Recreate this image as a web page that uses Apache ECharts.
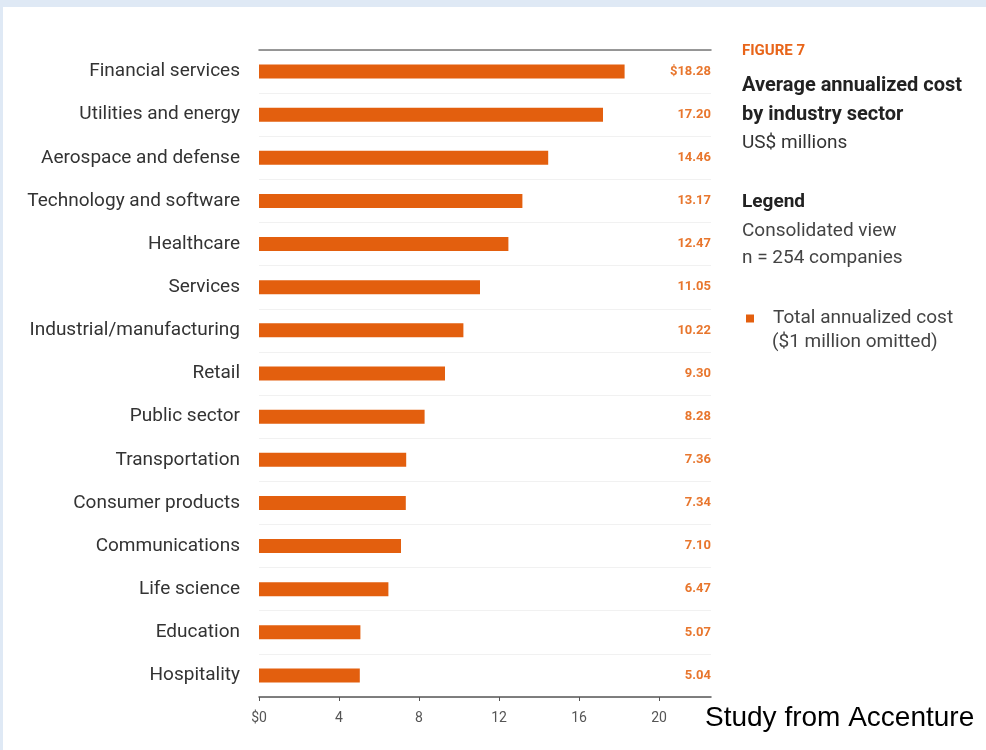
<!DOCTYPE html>
<html>
<head>
<meta charset="utf-8">
<script src="https://cdn.jsdelivr.net/npm/echarts@6/dist/echarts.min.js"></script>
<style>
  html, body { margin: 0; padding: 0; background: #ffffff; }
  #chart { width: 986px; height: 750px; }
</style>
</head>
<body>
<div id="chart"></div>
<script>
// industries, top to bottom
var sectors = ['Financial services', 'Utilities and energy', 'Aerospace and defense', 'Technology and software',
  'Healthcare', 'Services', 'Industrial/manufacturing', 'Retail', 'Public sector', 'Transportation',
  'Consumer products', 'Communications', 'Life science', 'Education', 'Hospitality'];
// average annualized cost, US$ millions
var costs = [18.28, 17.20, 14.46, 13.17, 12.47, 11.05, 10.22, 9.30, 8.28, 7.36, 7.34, 7.10, 6.47, 5.07, 5.04];
var xTicks = [0, 4, 8, 12, 16, 20];

var orange = '#e35f0e';
var costLabels = costs.map(function (v, i) {
  return (i === 0 ? '$' : '') + v.toFixed(2);
});

function txt(x, y, s, font, fill) {
  return {
    type: 'text',
    style: { x: x, y: y, text: s, font: font, fill: fill || '#333', verticalAlign: 'middle' }
  };
}

var chart = echarts.init(document.getElementById('chart'));
var option = {
  backgroundColor: '#ffffff',
  animation: false,
  textStyle: { fontFamily: 'Roboto' },
  grid: { left: 259, right: 275, top: 50, bottom: 53 },
  legend: {
    left: 741, top: 304,
    icon: 'rect', itemWidth: 8, itemHeight: 8,
    textStyle: { fontSize: 19, color: '#444', padding: [0, 0, 0, 14] },
    data: ['Total annualized cost']
  },
  xAxis: [{
    type: 'value', position: 'bottom',
    min: 0, max: 22.6, interval: 4,
    axisLine: { show: true, lineStyle: { color: '#555', width: 1.5 } },
    axisTick: { show: true, length: 4, lineStyle: { color: '#555' } },
    splitLine: { show: false },
    axisLabel: {
      color: '#555', fontSize: 14, margin: 14, showMaxLabel: false,
      formatter: function (v) {
        if (xTicks.indexOf(v) < 0) return '';
        return v === 0 ? '$0' : String(v);
      }
    }
  }, {
    type: 'value', position: 'top',
    min: 0, max: 22.6,
    axisLine: { show: true, lineStyle: { color: '#777', width: 1.5 } },
    axisTick: { show: false }, axisLabel: { show: false }, splitLine: { show: false }
  }],
  yAxis: [{
    type: 'category', inverse: true, data: sectors,
    axisLine: { show: false }, axisTick: { show: false },
    splitLine: { show: true, lineStyle: { color: '#f1f1f1' } },
    axisLabel: { color: '#333', fontSize: 19, margin: 19 }
  }, {
    type: 'category', inverse: true, data: costLabels, position: 'right',
    axisLine: { show: false }, axisTick: { show: false },
    axisLabel: { color: '#e8762d', fontSize: 13, fontWeight: 'bold', align: 'right', margin: 0 }
  }],
  series: [{
    name: 'Total annualized cost',
    type: 'bar',
    data: costs,
    barWidth: 14,
    itemStyle: { color: orange }
  }],
  graphic: [
    { type: 'rect', shape: { x: 0, y: 0, width: 986, height: 7 }, style: { fill: '#dfe9f5' }, z: -1 },
    { type: 'rect', shape: { x: 0, y: 0, width: 3, height: 750 }, style: { fill: '#dfe9f5' }, z: -1 },
    txt(742, 51, 'FIGURE 7', 'bold 15px Roboto', '#e8651a'),
    txt(742, 86, 'Average annualized cost', 'bold 20px Roboto', '#222'),
    txt(742, 115, 'by industry sector', 'bold 20px Roboto', '#222'),
    txt(742, 143, 'US$ millions', '19px Roboto', '#333'),
    txt(742, 202, 'Legend', 'bold 19px Roboto', '#222'),
    txt(742, 231, 'Consolidated view', '19px Roboto', '#444'),
    txt(742, 258, 'n = 254 companies', '19px Roboto', '#444'),
    txt(772, 342, '($1 million omitted)', '19px Roboto', '#444'),
    txt(705, 718, 'Study from Accenture', '28px "Liberation Sans"', '#000')
  ]
};
chart.setOption(option);
</script>
</body>
</html>
